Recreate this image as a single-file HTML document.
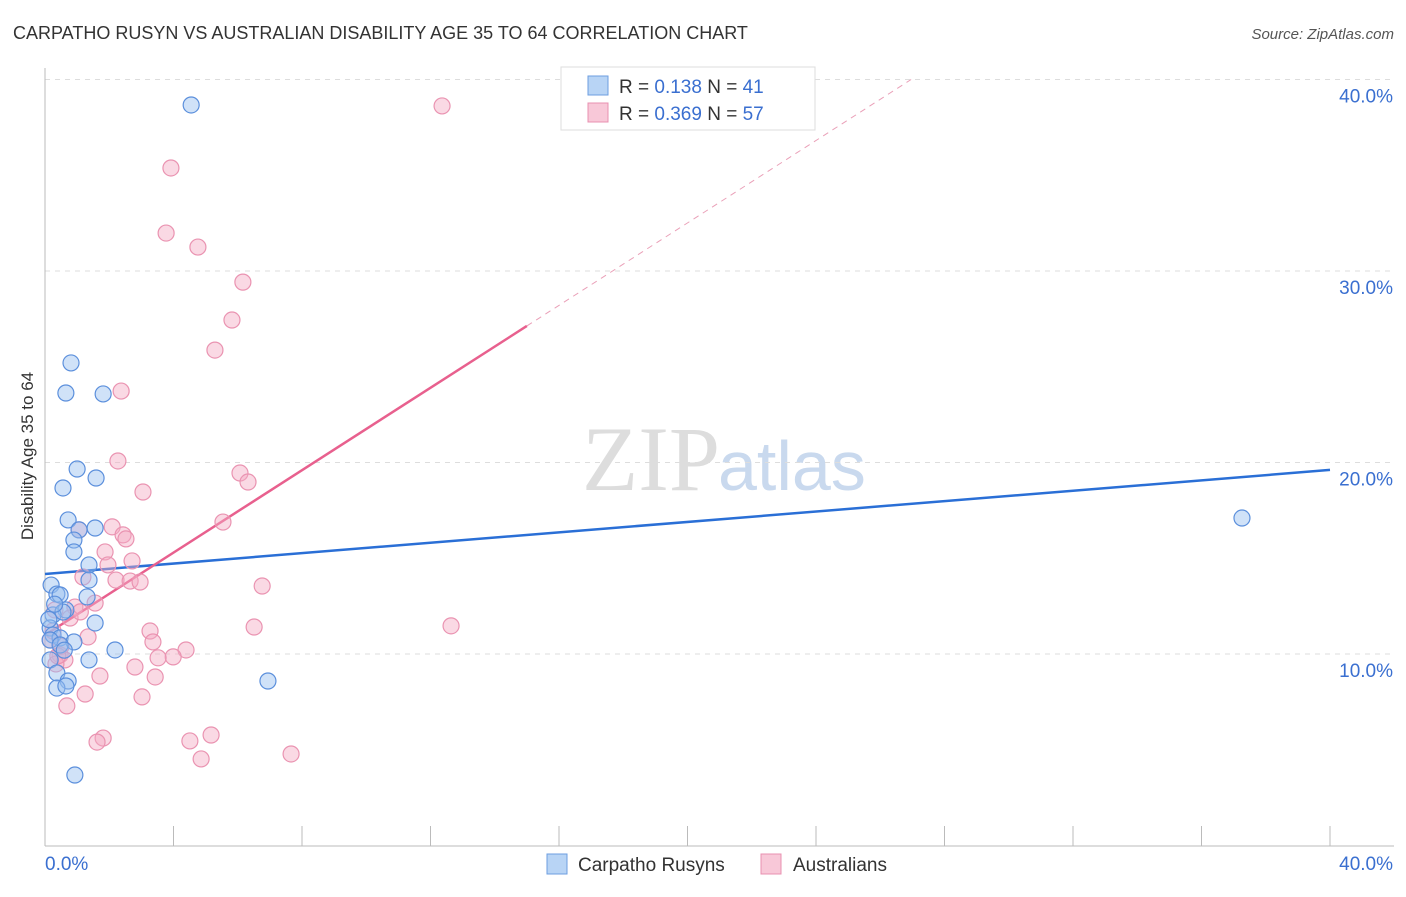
<!DOCTYPE html>
<html><head><meta charset="utf-8"><style>
body{margin:0;background:#fff;font-family:"Liberation Sans",sans-serif}
</style></head><body>
<svg width="1406" height="892" xmlns="http://www.w3.org/2000/svg" font-family="Liberation Sans, sans-serif">
<text x="13" y="39" font-size="18" fill="#333">CARPATHO RUSYN VS AUSTRALIAN DISABILITY AGE 35 TO 64 CORRELATION CHART</text>
<text x="1394" y="39" font-size="15" fill="#555" font-style="italic" text-anchor="end">Source: ZipAtlas.com</text>
<text x="720" y="490" font-size="92" fill="#ddd" font-family="Liberation Serif, serif" text-anchor="end">ZIP</text>
<text x="718" y="490" font-size="70" fill="#c9d9ee">atlas</text>
<g id="grid"></g>
<line x1="45" y1="68" x2="45" y2="846" stroke="#bbb"/>
<line x1="45" y1="846" x2="1394" y2="846" stroke="#bbb"/>
<g id="ticks"></g>
<text transform="translate(33,456) rotate(-90)" font-size="17" fill="#333" text-anchor="middle">Disability Age 35 to 64</text>
<g id="lines"></g>
<g id="pts"></g>
<g>
<rect x="561" y="67" width="254" height="63" fill="#fff" stroke="#ddd"/>
<rect x="588" y="76" width="20" height="19" fill="#b8d4f5" stroke="#6d9ee0"/>
<rect x="588" y="103" width="20" height="19" fill="#f8c8d8" stroke="#e890b0"/>
<text x="619" y="93" font-size="19" fill="#333">R = <tspan fill="#3a6fd0">0.138</tspan>  N = <tspan fill="#3a6fd0">41</tspan></text>
<text x="619" y="120" font-size="19" fill="#333">R = <tspan fill="#3a6fd0">0.369</tspan>  N = <tspan fill="#3a6fd0">57</tspan></text>
</g>
<g>
<rect x="547" y="854" width="20" height="20" fill="#b8d4f5" stroke="#6d9ee0"/>
<text x="578" y="871" font-size="19" fill="#333">Carpatho Rusyns</text>
<rect x="761" y="854" width="20" height="20" fill="#f8c8d8" stroke="#e890b0"/>
<text x="793" y="871" font-size="19" fill="#333">Australians</text>
</g>
</svg>
<script>
const yTicks=[10,20,30,40];
const xTickLabels=["0.0%","40.0%"];
const blueX=[4.55,0.81,0.65,1.81,1.00,1.59,0.56,0.72,1.56,1.06,0.90,0.90,1.37,1.37,0.19,0.37,0.47,1.31,0.65,0.25,0.56,1.56,0.16,0.25,0.47,0.90,2.18,1.37,0.16,0.37,0.72,0.37,0.65,6.94,0.93,37.26,0.16,0.47,0.12,0.30,0.60];
const blueY=[38.67,25.20,23.63,23.58,19.66,19.19,18.67,17.00,16.58,16.48,15.95,15.33,14.65,13.86,13.60,13.13,13.08,12.98,12.30,12.04,12.19,11.62,11.36,10.99,10.84,10.63,10.21,9.69,9.69,9.01,8.59,8.22,8.33,8.59,3.68,17.10,10.73,10.47,11.8,12.6,10.2];
const pinkX=[12.36,3.92,3.77,4.76,6.16,5.82,5.29,2.37,2.27,6.07,6.32,3.05,5.54,1.06,2.09,2.43,2.52,1.87,2.71,1.96,1.18,2.21,2.65,2.96,6.76,1.56,0.93,0.31,0.78,12.64,6.51,3.27,3.36,1.34,0.16,4.39,3.99,3.52,0.47,0.62,0.34,2.80,3.43,1.71,1.25,3.02,0.68,1.81,1.62,5.17,4.51,4.86,7.66,0.25,0.50,1.10,0.40];
const pinkY=[38.62,35.38,31.98,31.25,29.42,27.44,25.87,23.73,20.08,19.45,18.98,18.46,16.89,16.48,16.64,16.22,16.01,15.33,14.86,14.65,14.02,13.86,13.81,13.76,13.55,12.66,12.45,12.30,11.88,11.47,11.41,11.20,10.63,10.89,10.73,10.21,9.85,9.80,9.95,9.69,9.48,9.32,8.80,8.85,7.91,7.76,7.29,5.61,5.40,5.77,5.46,4.52,4.78,11.2,10.4,12.2,9.9];
const blueLine=[14.18,0.1358];
const pinkLine=[10.99,1.076];
const pinkSolidEnd=15.0;
const X=v=>45+v*1285/40, Y=v=>845.5-v*19.15;
const NS="http://www.w3.org/2000/svg";
function mk(t,a,p){const e=document.createElementNS(NS,t);for(const k in a)e.setAttribute(k,a[k]);p.appendChild(e);return e;}
const grid=document.getElementById('grid'),ticks=document.getElementById('ticks');
yTicks.forEach(v=>{
 const l=mk('line',{x1:45,x2:1394,y1:Y(v),y2:Y(v),stroke:'#ddd','stroke-dasharray':'5,5'},grid);
 
 
 const t=mk('text',{x:1393,y:Y(v)+23,'font-size':19,fill:'#3a6fd0','text-anchor':'end'},ticks);
 t.textContent=v.toFixed(1)+'%';
 
 
});
for(let i=1;i<=10;i++){const x=X(i*4);
 const l=mk('line',{x1:x,x2:x,y1:826,y2:846,stroke:'#bbb'},ticks);
 
 }
[[45,'start',0],[1393,'end',1]].forEach(([x,a,i])=>{
 const t=mk('text',{x:x,y:870,'font-size':19,fill:'#3a6fd0','text-anchor':a},ticks);
 t.textContent=xTickLabels[i];
 
 });
const pts=document.getElementById('pts');
function dots(xs,ys,fill,stroke,name){xs.forEach((x,i)=>{
 const c=mk('circle',{cx:X(x),cy:Y(ys[i]),r:8,fill:fill,stroke:stroke,'stroke-width':1.2},pts);
 
 });}
dots(pinkX,pinkY,'rgba(245,170,195,0.45)','#ea93b1','australian-point');
dots(blueX,blueY,'rgba(150,190,240,0.45)','#5b8fdc','carpatho-point');
const lines=document.getElementById('lines');
let l=mk('line',{x1:X(0),y1:Y(blueLine[0]),x2:X(40),y2:Y(blueLine[0]+40*blueLine[1]),stroke:'#2a6fd6','stroke-width':2.5},lines);


l=mk('line',{x1:X(0),y1:Y(pinkLine[0]),x2:X(pinkSolidEnd),y2:Y(pinkLine[0]+pinkSolidEnd*pinkLine[1]),stroke:'#e8608e','stroke-width':2.5},lines);


const xe=(40-pinkLine[0])/pinkLine[1];
l=mk('line',{x1:X(pinkSolidEnd),y1:Y(pinkLine[0]+pinkSolidEnd*pinkLine[1]),x2:X(xe),y2:Y(40),stroke:'#eaa0b8','stroke-width':1,'stroke-dasharray':'6,5'},lines);


</script>
</body></html>
